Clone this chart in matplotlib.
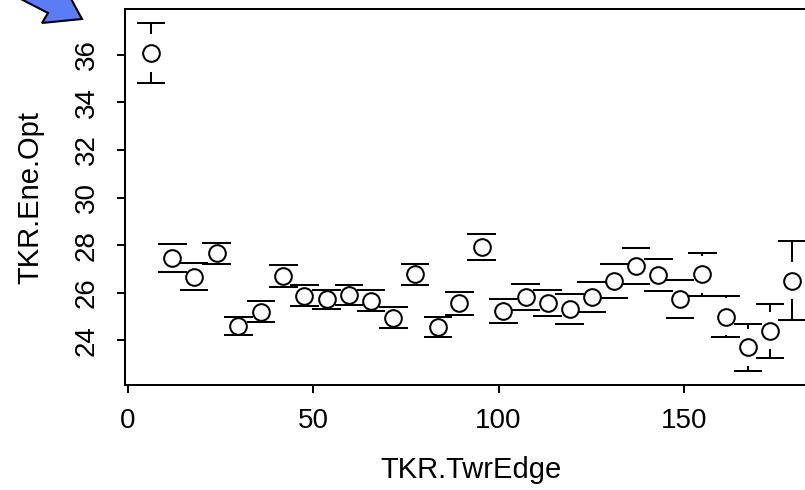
import matplotlib
matplotlib.use("Agg")
import matplotlib.pyplot as plt
from matplotlib.patches import Polygon

# values (TKR.Ene.Opt vs TKR.TwrEdge, mean +/- error)
twr_edge = [6.2, 12.0, 17.8, 23.9, 29.8, 35.9, 41.9, 47.6, 53.6, 59.6,
            65.6, 71.6, 77.5, 83.6, 89.4, 95.4, 101.3, 107.3, 113.2, 119.2,
            125.1, 131.2, 137.1, 143.1, 149.0, 155.0, 161.3, 167.3, 173.2, 179.2]
ene_opt = [36.07, 27.47, 26.68, 27.66, 24.61, 25.21, 26.71, 25.87, 25.73, 25.90,
           25.66, 24.96, 26.78, 24.56, 25.56, 27.93, 25.25, 25.82, 25.56, 25.34,
           25.82, 26.51, 27.14, 26.75, 25.74, 26.78, 25.00, 23.71, 24.41, 26.51]
ene_err = [1.25, 0.59, 0.56, 0.43, 0.38, 0.43, 0.48, 0.44, 0.40, 0.43,
           0.44, 0.44, 0.43, 0.43, 0.49, 0.54, 0.51, 0.55, 0.55, 0.63,
           0.63, 0.71, 0.75, 0.66, 0.80, 0.90, 0.85, 1.00, 1.13, 1.66]

x_ticks = [0, 50, 100, 150]
y_ticks = [24, 26, 28, 30, 32, 34, 36]

plt.rcParams["font.family"] = ["Liberation Sans", "DejaVu Sans"]

W, H = 805, 490
fig = plt.figure(figsize=(W / 100, H / 100), dpi=100)
# plot box runs past the right edge of the picture, as in the screenshot
ax = fig.add_axes([124.6 / W, 1 - 385 / H, (817 - 124.6) / W, (385 - 9.5) / H])
ax.set_xlim(-0.92, 185.92)
ax.set_ylim(22.13, 37.90)

lw = 1.45
half_cap = 3.85   # cap half-width, data units
gap = 0.787       # plotCI-style gap around the symbol

for xi, yi, ei in zip(twr_edge, ene_opt, ene_err):
    ax.hlines([yi - ei, yi + ei], xi - half_cap, xi + half_cap,
              color="black", lw=lw, zorder=2)
    if ei > gap:
        ax.vlines(xi, yi + gap, yi + ei, color="black", lw=lw, zorder=2)
        ax.vlines(xi, yi - ei, yi - gap, color="black", lw=lw, zorder=2)

ax.plot(twr_edge, ene_opt, "o", ls="none", ms=12, mfc="white",
        mec="black", mew=lw, zorder=3)

ax.set_xticks(x_ticks)
ax.set_yticks(y_ticks)
for s in ax.spines.values():
    s.set_linewidth(lw)
ax.tick_params(axis="both", direction="out", length=5.8, width=lw,
               labelsize=20, color="black")
ax.tick_params(axis="x", pad=11)
ax.tick_params(axis="y", pad=12, labelrotation=90)
for lab in ax.get_yticklabels():
    lab.set_va("center")

ax.set_xlabel("TKR.TwrEdge", fontsize=21)
ax.xaxis.set_label_coords(0.5, -(456 - 385) / (385 - 9.5))
ax.set_ylabel("TKR.Ene.Opt", fontsize=21)
ax.yaxis.set_label_coords((44 - 124.6) / (817 - 124.6), 0.5)

# blue call-out arrow poking in at the top-left corner
arrow_px = [(17, -3), (48, 13), (42, 23), (82, 19), (70, -3)]
arrow = Polygon([(px / W, 1 - py / H) for px, py in arrow_px], closed=True,
                transform=fig.transFigure, facecolor="#5b7cf5",
                edgecolor="black", lw=1.5, zorder=5)
fig.patches.append(arrow)

fig.savefig("out.png", dpi=100)
